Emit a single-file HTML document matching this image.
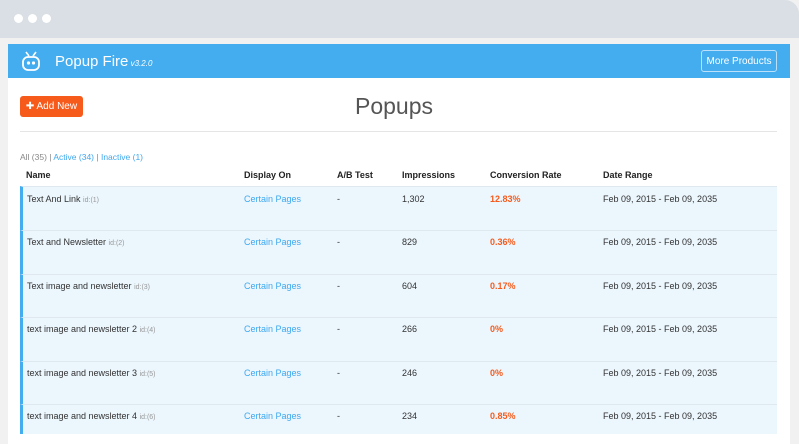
<!DOCTYPE html>
<html><head><style>
*{margin:0;padding:0;box-sizing:border-box}
body{width:799px;height:428px;overflow:hidden;background:#f1f1f1;font-family:"Liberation Sans",sans-serif;position:relative}
.top{position:absolute;left:0;top:0;width:799px;height:38px;background:#d9dfe4;border-top-right-radius:14px}
.dot{position:absolute;top:14px;width:9px;height:9px;border-radius:50%;background:#fff}
.panel{position:absolute;left:8px;top:44px;width:782px;height:400px;background:#fff}
.hdr{position:absolute;left:8px;top:44px;width:782px;height:34px;background:#44adf0}
.abs{position:absolute;white-space:nowrap}
.btn{position:absolute;left:20px;top:96px;width:63px;height:21px;background:#f75b1c;border-radius:3px;color:#fff;font-size:10px;line-height:21px;text-align:center}
.more{position:absolute;left:701px;top:50px;width:76px;height:22px;border:1px solid #bde0fa;border-radius:3px;color:#fff;font-size:10px;display:flex;align-items:center;justify-content:center}
.row{position:absolute;left:20px;width:757px;background:#ebf6fd;border-left:3px solid #44adf0;border-top:1px solid #dfe8ee}
.t{position:absolute;font-size:9px;color:#333;white-space:nowrap}
.th{position:absolute;font-size:9px;color:#222;font-weight:bold;top:170px;white-space:nowrap}
.id{color:#999;font-size:7px}
.lk{color:#3fa8ef}
.or{color:#f75b1c;font-weight:bold}
</style></head><body>
<div class="top"></div>
<div class="dot" style="left:14px"></div><div class="dot" style="left:28px"></div><div class="dot" style="left:42px"></div>
<div class="panel"></div>
<div class="hdr"></div>
<svg class="abs" style="left:21px;top:50px" width="20" height="22" viewBox="0 0 20 22"><path d="M5 2l3 4M15 2l-3 4" stroke="#fff" stroke-width="1.6" fill="none"/><rect x="2" y="7" width="16" height="13" rx="5" fill="none" stroke="#fff" stroke-width="1.8"/><circle cx="7.5" cy="13" r="1.6" fill="#fff"/><circle cx="12.5" cy="13" r="1.6" fill="#fff"/></svg>
<div class="abs" style="left:55px;top:53px;color:#fff;font-size:15px">Popup Fire<i style="font-size:8px"> v3.2.0</i></div>
<div class="more">More Products</div>
<div class="btn">✚ Add New</div>
<div class="abs" style="left:355px;top:93px;font-size:23px;color:#555">Popups</div>
<div class="abs" style="left:20px;top:131px;width:757px;height:1px;background:#e5e5e5"></div>
<div class="abs" style="left:20px;top:152px;font-size:8.5px;color:#888">All (35) | <span class="lk">Active (34)</span> | <span class="lk">Inactive (1)</span></div>
<div class="th" style="left:26px">Name</div>
<div class="th" style="left:244px">Display On</div>
<div class="th" style="left:337px">A/B Test</div>
<div class="th" style="left:402px">Impressions</div>
<div class="th" style="left:490px">Conversion Rate</div>
<div class="th" style="left:603px">Date Range</div>
<div class="row" style="top:186px;height:45px"></div>
<div class="row" style="top:230px;height:45px"></div>
<div class="row" style="top:274px;height:44px"></div>
<div class="row" style="top:317px;height:45px"></div>
<div class="row" style="top:361px;height:44px"></div>
<div class="row" style="top:404px;height:30px"></div>
<div class="t" style="left:27px;top:194px">Text And Link <span class="id">id:(1)</span></div>
<div class="t lk" style="left:244px;top:194px">Certain Pages</div><div class="t" style="left:337px;top:194px">-</div><div class="t" style="left:402px;top:194px">1,302</div><div class="t or" style="left:490px;top:194px">12.83%</div><div class="t" style="left:603px;top:194px">Feb 09, 2015 - Feb 09, 2035</div>
<div class="t" style="left:27px;top:237px">Text and Newsletter <span class="id">id:(2)</span></div>
<div class="t lk" style="left:244px;top:237px">Certain Pages</div><div class="t" style="left:337px;top:237px">-</div><div class="t" style="left:402px;top:237px">829</div><div class="t or" style="left:490px;top:237px">0.36%</div><div class="t" style="left:603px;top:237px">Feb 09, 2015 - Feb 09, 2035</div>
<div class="t" style="left:27px;top:281px">Text image and newsletter <span class="id">id:(3)</span></div>
<div class="t lk" style="left:244px;top:281px">Certain Pages</div><div class="t" style="left:337px;top:281px">-</div><div class="t" style="left:402px;top:281px">604</div><div class="t or" style="left:490px;top:281px">0.17%</div><div class="t" style="left:603px;top:281px">Feb 09, 2015 - Feb 09, 2035</div>
<div class="t" style="left:27px;top:324px">text image and newsletter 2 <span class="id">id:(4)</span></div>
<div class="t lk" style="left:244px;top:324px">Certain Pages</div><div class="t" style="left:337px;top:324px">-</div><div class="t" style="left:402px;top:324px">266</div><div class="t or" style="left:490px;top:324px">0%</div><div class="t" style="left:603px;top:324px">Feb 09, 2015 - Feb 09, 2035</div>
<div class="t" style="left:27px;top:368px">text image and newsletter 3 <span class="id">id:(5)</span></div>
<div class="t lk" style="left:244px;top:368px">Certain Pages</div><div class="t" style="left:337px;top:368px">-</div><div class="t" style="left:402px;top:368px">246</div><div class="t or" style="left:490px;top:368px">0%</div><div class="t" style="left:603px;top:368px">Feb 09, 2015 - Feb 09, 2035</div>
<div class="t" style="left:27px;top:411px">text image and newsletter 4 <span class="id">id:(6)</span></div>
<div class="t lk" style="left:244px;top:411px">Certain Pages</div><div class="t" style="left:337px;top:411px">-</div><div class="t" style="left:402px;top:411px">234</div><div class="t or" style="left:490px;top:411px">0.85%</div><div class="t" style="left:603px;top:411px">Feb 09, 2015 - Feb 09, 2035</div>
</body></html>
